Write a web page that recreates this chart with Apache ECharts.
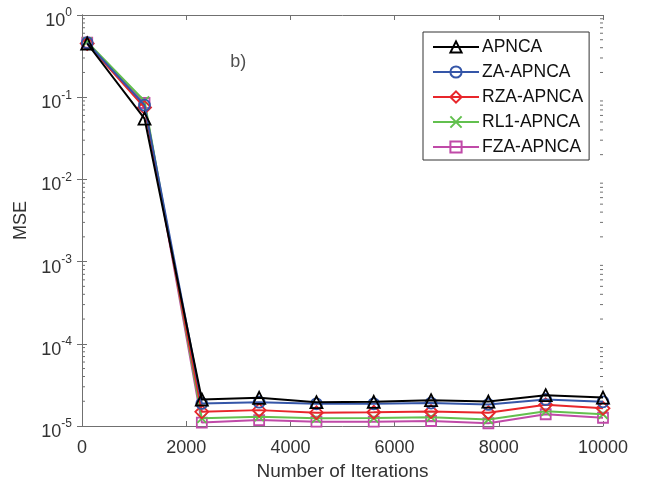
<!DOCTYPE html>
<html><head><meta charset="utf-8">
<script src="https://cdn.jsdelivr.net/npm/echarts@6/dist/echarts.min.js"></script>
<style>html,body{margin:0;padding:0;background:#fff}#c{width:648px;height:486px}</style>
</head><body><div id="c"></div>
<script>
const iterations = [100, 1200, 2300, 3400, 4500, 5600, 6700, 7800, 8900, 10000];
const apnca   = [0.45, 0.055, 2.1e-5, 2.2e-5, 1.95e-5, 1.97e-5, 2.06e-5, 1.98e-5, 2.37e-5, 2.22e-5];
const zaApnca = [0.46, 0.08, 1.88e-5, 1.95e-5, 1.86e-5, 1.86e-5, 1.9e-5, 1.83e-5, 2.1e-5, 1.97e-5];
const rzaApnca= [0.45, 0.075, 1.49e-5, 1.56e-5, 1.45e-5, 1.47e-5, 1.5e-5, 1.45e-5, 1.81e-5, 1.64e-5];
const rl1Apnca= [0.47, 0.09, 1.24e-5, 1.3e-5, 1.24e-5, 1.25e-5, 1.28e-5, 1.2e-5, 1.51e-5, 1.39e-5];
const fzaApnca= [0.46, 0.085, 1.1e-5, 1.18e-5, 1.13e-5, 1.13e-5, 1.15e-5, 1.08e-5, 1.39e-5, 1.26e-5];
const xTicks = [0, 2000, 4000, 6000, 8000, 10000];
const yDecades = [1e-5, 1e-4, 1e-3, 1e-2, 1e-1, 1];
const minorMultipliers = [2, 3, 4, 5, 6, 7, 8, 9];
const seriesNames = ['APNCA', 'ZA-APNCA', 'RZA-APNCA', 'RL1-APNCA', 'FZA-APNCA'];
const seriesData = [apnca, zaApnca, rzaApnca, rl1Apnca, fzaApnca];

const colors = ['#000000', '#3556a8', '#e8262b', '#62c04e', '#c04aa8'];
const symbols = ['triangle', 'circle', 'diamond', 'path://M0,0L10,10M10,0L0,10', 'rect'];
const sizes = [12, 11, 13, 9, 10];
const font = 'Liberation Sans, Arial, sans-serif';
const axisGray = '#707070';

const minorValues = [];
yDecades.slice(0, -1).forEach(d => minorMultipliers.forEach(m => minorValues.push(d * m)));

const chart = echarts.init(document.getElementById('c'));
const series = seriesNames.map((n, i) => ({
  name: n, type: 'line',
  data: iterations.map((x, k) => [x, seriesData[i][k]]),
  symbol: symbols[i], symbolSize: sizes[i], showAllSymbol: true,
  lineStyle: {color: colors[i], width: 2},
  itemStyle: {color: 'rgba(255,255,255,0)', borderColor: colors[i], borderWidth: 1.8},
  emphasis: {disabled: true}, z: 10 - i, animation: false
}));
series.push({
  name: '_lbl', type: 'scatter', data: [[3000, 0.27]], symbolSize: 0,
  label: {show: true, formatter: 'b)', color: '#222', fontSize: 18, fontFamily: font},
  silent: true, animation: false
});
series.push({
  name: '_minor', type: 'custom', silent: true, animation: false,
  data: minorValues.map(v => [0, v]),
  renderItem: (params, api) => {
    const y = api.coord([0, api.value(1)])[1];
    const cs = params.coordSys;
    return {type: 'group', children: [
      {type: 'line', shape: {x1: cs.x, y1: y, x2: cs.x + 3, y2: y}, style: {stroke: axisGray, lineWidth: 1}},
      {type: 'line', shape: {x1: cs.x + cs.width, y1: y, x2: cs.x + cs.width - 3, y2: y}, style: {stroke: axisGray, lineWidth: 1}}
    ]};
  }
});

const supFmt = v => '{b|10}{s|' + Math.round(Math.log10(v)) + '}';

chart.setOption({
  animation: false,
  grid: {left: 82, right: 45, top: 15, bottom: 60},
  legend: {
    data: seriesNames, orient: 'vertical', left: 423, top: 32,
    itemWidth: 46, itemHeight: 14, itemGap: 7,
    padding: [6, 6, 4, 9], borderColor: '#333', borderWidth: 1, backgroundColor: '#fff',
    textStyle: {fontSize: 17.5, lineHeight: 17, fontFamily: font, color: '#111', padding: [0, 0, 0, -2]}
  },
  xAxis: [{
    type: 'value', min: 0, max: 10000, interval: 2000,
    name: 'Number of Iterations', nameLocation: 'middle', nameGap: 33,
    nameTextStyle: {fontSize: 19, fontFamily: font, color: '#333'},
    axisLine: {lineStyle: {color: axisGray, width: 1}},
    axisTick: {inside: true, length: 5, lineStyle: {color: axisGray}},
    axisLabel: {fontSize: 18, fontFamily: font, color: '#333', margin: 13, formatter: v => String(v)},
    splitLine: {show: false}
  }, {
    type: 'value', min: 0, max: 10000, interval: 2000, position: 'top',
    axisLine: {show: true, lineStyle: {color: axisGray}},
    axisTick: {inside: true, length: 5, lineStyle: {color: axisGray}},
    axisLabel: {show: false}, splitLine: {show: false}
  }],
  yAxis: [{
    type: 'log', logBase: 10, min: 1e-5, max: 1,
    name: 'MSE', nameLocation: 'middle', nameGap: 48,
    nameTextStyle: {fontSize: 18, fontFamily: font, color: '#333'},
    axisLine: {show: true, lineStyle: {color: axisGray}},
    axisTick: {inside: true, length: 5, lineStyle: {color: axisGray}},
    axisLabel: {formatter: supFmt, margin: 10, rich: {
      b: {fontSize: 18, fontFamily: font, color: '#333', padding: [12, 0, 0, 0]},
      s: {fontSize: 12, fontFamily: font, color: '#333', verticalAlign: 'top', padding: [7, 0, 0, 0]}
    }},
    splitLine: {show: false}
  }, {
    type: 'log', logBase: 10, min: 1e-5, max: 1, position: 'right',
    axisLine: {show: true, lineStyle: {color: axisGray}},
    axisTick: {inside: true, length: 5, lineStyle: {color: axisGray}},
    axisLabel: {show: false}, splitLine: {show: false}
  }],
  series: series
});
</script></body></html>
